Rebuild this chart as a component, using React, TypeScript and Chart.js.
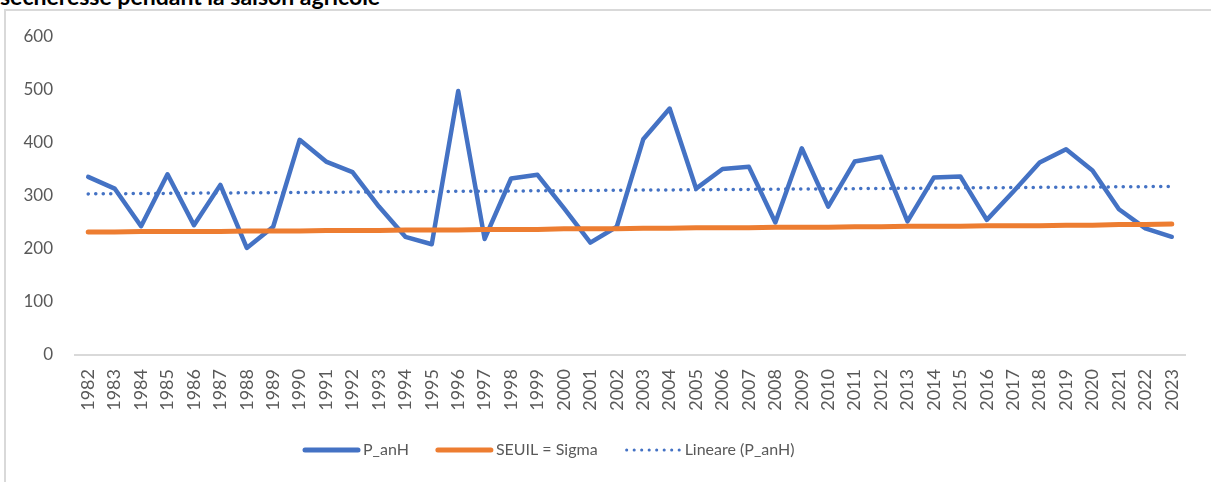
import React, { useEffect, useRef } from "react";
import { Chart, registerables } from "chart.js";

Chart.register(...registerables);

const titleText = "sécheresse pendant la saison agricole";

const years = [
  "1982", "1983", "1984", "1985", "1986", "1987", "1988", "1989", "1990", "1991",
  "1992", "1993", "1994", "1995", "1996", "1997", "1998", "1999", "2000", "2001",
  "2002", "2003", "2004", "2005", "2006", "2007", "2008", "2009", "2010", "2011",
  "2012", "2013", "2014", "2015", "2016", "2017", "2018", "2019", "2020", "2021",
  "2022", "2023",
];

const pAnH = [
  336, 314, 243, 341, 245, 321, 202, 242, 406, 365,
  345, 280, 223, 209, 498, 219, 333, 340, 277, 212,
  242, 407, 465, 314, 351, 355, 250, 390, 280, 365,
  374, 252, 335, 337, 255, 308, 363, 388, 348, 275,
  239, 223,
];

const seuil = [
  232, 232, 233, 233, 233, 233, 234, 234, 234, 235,
  235, 235, 236, 236, 236, 237, 237, 237, 238, 238,
  238, 239, 239, 240, 240, 240, 241, 241, 241, 242,
  242, 243, 243, 243, 244, 244, 244, 245, 245, 246,
  246, 247,
];

const lineare = [
  304.0, 304.3, 304.7, 305.0, 305.4, 305.7, 306.0, 306.4, 306.7, 307.1,
  307.4, 307.8, 308.1, 308.4, 308.8, 309.1, 309.5, 309.8, 310.1, 310.5,
  310.8, 311.2, 311.5, 311.8, 312.2, 312.5, 312.9, 313.2, 313.6, 313.9,
  314.2, 314.6, 314.9, 315.3, 315.6, 315.9, 316.3, 316.6, 317.0, 317.3,
  317.6, 318.0,
];

const seriesNames = ["P_anH", "SEUIL = Sigma", "Lineare (P_anH)"];
const yTicks = [0, 100, 200, 300, 400, 500, 600];

const BLUE = "#4472C4";
const ORANGE = "#ED7D31";
const TEXT = "#595959";
const GRID = "#D9D9D9";
const FONT = 'Lato, "Open Sans", sans-serif';

const legendPlugin = {
  id: "excelLegend",
  afterDraw(chart: any) {
    const ctx = chart.ctx as CanvasRenderingContext2D;
    ctx.save();
    ctx.font = `16px ${FONT}`;
    ctx.textBaseline = "middle";
    ctx.textAlign = "left";
    const y = 439;
    let x = 297;
    const lineLen = 57;
    chart.data.datasets.forEach((ds: any) => {
      ctx.beginPath();
      ctx.strokeStyle = ds.borderColor;
      ctx.lineWidth = ds.legendWidth;
      ctx.lineCap = "round";
      ctx.setLineDash(ds.borderDash || []);
      ctx.moveTo(x + 2, y);
      ctx.lineTo(x + lineLen - 2, y);
      ctx.stroke();
      ctx.setLineDash([]);
      ctx.fillStyle = TEXT;
      const tx = x + lineLen + 3;
      ctx.fillText(ds.label, tx, y);
      x = tx + ctx.measureText(ds.label).width + 27;
    });
    ctx.restore();
  },
};

function ChartBox() {
  const ref = useRef<HTMLCanvasElement | null>(null);
  useEffect(() => {
    if (!ref.current) return;
    const chart = new Chart(ref.current, {
      type: "line",
      data: {
        labels: years,
        datasets: [
          {
            label: seriesNames[0],
            data: pAnH,
            borderColor: BLUE,
            backgroundColor: BLUE,
            borderWidth: 4.5,
            pointRadius: 0,
            tension: 0,
            borderCapStyle: "round",
            borderJoinStyle: "round",
            order: 2,
            legendWidth: 5,
          } as any,
          {
            label: seriesNames[1],
            data: seuil,
            borderColor: ORANGE,
            backgroundColor: ORANGE,
            borderWidth: 5,
            pointRadius: 0,
            tension: 0,
            borderCapStyle: "round",
            order: 1,
            legendWidth: 5,
          } as any,
          {
            label: seriesNames[2],
            data: lineare,
            borderColor: BLUE,
            backgroundColor: BLUE,
            borderWidth: 3.5,
            borderDash: [0.1, 7.4],
            borderCapStyle: "round",
            pointRadius: 0,
            tension: 0,
            order: 0,
            legendWidth: 3,
          } as any,
        ],
      },
      options: {
        animation: false,
        responsive: false,
        maintainAspectRatio: false,
        layout: { padding: { left: 0, top: 26, right: 26, bottom: 0 } },
        plugins: {
          legend: { display: false },
          tooltip: { enabled: false },
          title: { display: false },
        },
        scales: {
          x: {
            type: "category",
            offset: true,
            grid: { display: false, drawTicks: false },
            border: { display: true, color: GRID, width: 2 },
            ticks: {
              color: TEXT,
              font: { family: FONT, size: 18 },
              minRotation: 90,
              maxRotation: 90,
              autoSkip: false,
              padding: 14,
            },
            afterFit: (s: any) => {
              s.height = 127;
            },
          },
          y: {
            min: 0,
            max: 600,
            grid: { display: false, drawTicks: false },
            border: { display: false },
            afterBuildTicks: (s: any) => {
              s.ticks = yTicks.map((v) => ({ value: v }));
            },
            ticks: {
              color: TEXT,
              font: { family: FONT, size: 17 },
              padding: 22,
            },
            afterFit: (s: any) => {
              s.width = 69;
              s.paddingTop = 0;
              s.paddingBottom = 0;
            },
          },
        },
      } as any,
      plugins: [legendPlugin],
    });
    return () => chart.destroy();
  }, []);
  return <canvas ref={ref} width={1205} height={471} style={{ display: "block" }} />;
}

export default function App() {
  return (
    <div
      style={{
        position: "fixed",
        left: 0,
        top: 0,
        width: 1211,
        height: 482,
        overflow: "hidden",
        background: "#fff",
      }}
    >
      <div
        style={{
          position: "absolute",
          left: 0,
          top: -14,
          font: `bold 23px ${FONT}`,
          lineHeight: "20px",
          color: "#000",
          whiteSpace: "nowrap",
        }}
      >
        {titleText}
      </div>
      <div
        style={{
          position: "absolute",
          left: 4,
          top: 9,
          width: 1220,
          height: 500,
          border: `2px solid ${GRID}`,
          boxSizing: "border-box",
        }}
      />
      <div style={{ position: "absolute", left: 6, top: 11 }}>
        <ChartBox />
      </div>
    </div>
  );
}
